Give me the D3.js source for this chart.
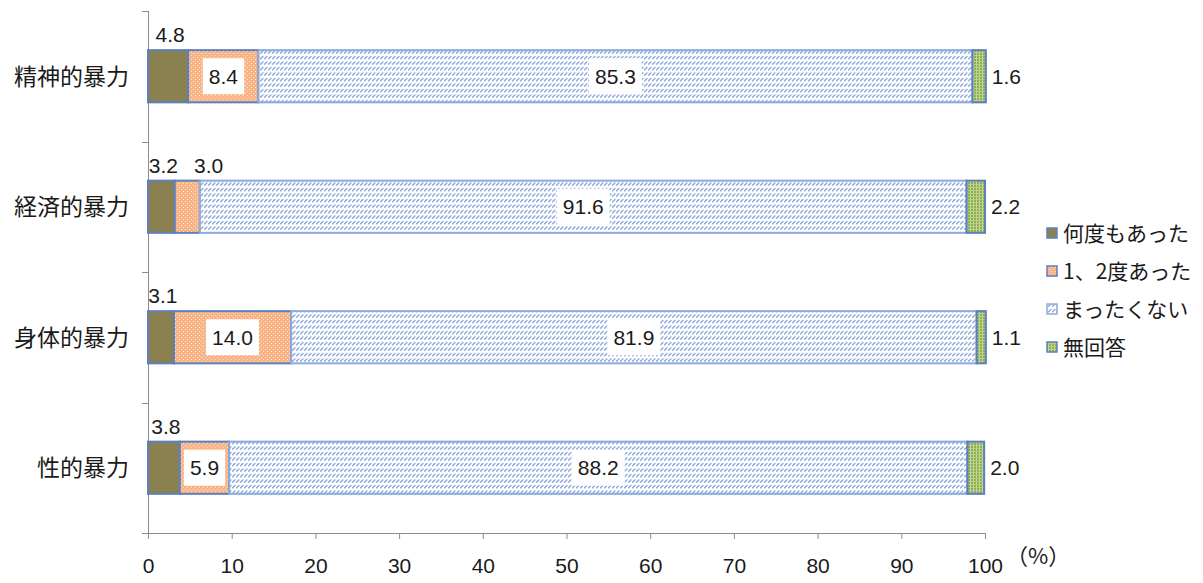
<!DOCTYPE html>
<html><head><meta charset="utf-8">
<script src="https://cdn.jsdelivr.net/npm/d3@7"></script>
<style>
body{margin:0;background:#fff;}
text{font-family:"Noto Sans CJK JP","Noto Sans",sans-serif;fill:#1a1a1a;}
.num{font-family:"Liberation Sans",Arial,sans-serif;}
</style></head>
<body><svg id="c" width="1203" height="583"></svg>
<script>
const categories = ["精神的暴力","経済的暴力","身体的暴力","性的暴力"];
const seriesNames = ["何度もあった","1、2度あった","まったくない","無回答"];
const many = [4.8, 3.2, 3.1, 3.8];
const onceTwice = [8.4, 3.0, 14.0, 5.9];
const never = [85.3, 91.6, 81.9, 88.2];
const noAnswer = [1.6, 2.2, 1.1, 2.0];
const xTicks = [0,10,20,30,40,50,60,70,80,90,100];
const unitLabel = "（%）";

const seriesVals = [many, onceTwice, never, noAnswer];
const svg = d3.select("#c");
const defs = svg.append("defs");

// patterns
const pOr = defs.append("pattern").attr("id","pOr").attr("patternUnits","userSpaceOnUse").attr("width",4).attr("height",4);
pOr.append("rect").attr("width",4).attr("height",4).attr("fill","#f9b486");
pOr.append("rect").attr("x",1).attr("y",1).attr("width",1).attr("height",1).attr("fill","#fde4d2");
pOr.append("rect").attr("x",3).attr("y",3).attr("width",1).attr("height",1).attr("fill","#fde4d2");

const pHa = defs.append("pattern").attr("id","pHa").attr("patternUnits","userSpaceOnUse").attr("width",4).attr("height",5.5);
pHa.append("rect").attr("width",4).attr("height",5.5).attr("fill","#fff");
pHa.append("path").attr("d","M0.2,4.2 L3.4,1").attr("stroke","#7196d6").attr("stroke-width",1.2);

const pGr = defs.append("pattern").attr("id","pGr").attr("patternUnits","userSpaceOnUse").attr("width",3).attr("height",3);
pGr.append("rect").attr("width",3).attr("height",3).attr("fill","#8fae4f");
pGr.append("rect").attr("x",1).attr("y",0).attr("width",1).attr("height",3).attr("fill","#c3d89a");
pGr.append("rect").attr("x",0).attr("y",1).attr("width",3).attr("height",1).attr("fill","#b7cf86");

const fills = ["#8b8150","url(#pOr)","url(#pHa)","url(#pGr)"];
const strokes = ["#5b80c0","#5b80c0","#8eaadc","#5b80c0"];

const x = d3.scaleLinear().domain([0,100]).range([148,985]);
const y = d3.scaleBand().domain(categories).range([11,533]).paddingInner(0.6).paddingOuter(0.3);

// axes
const gx = svg.append("g").attr("transform","translate(0,533)")
  .call(d3.axisBottom(x).tickValues(xTicks).tickSize(6).tickPadding(19).tickFormat(d3.format("d")));
gx.select(".domain").attr("stroke","#8c8c8c").attr("d","M142,0.5H985.5");
gx.selectAll(".tick line").attr("stroke","#8c8c8c");
gx.selectAll(".tick text").attr("class","num").attr("font-size",21).attr("fill","#1a1a1a");

svg.append("line").attr("x1",148.5).attr("x2",148.5).attr("y1",11).attr("y2",533).attr("stroke","#8c8c8c");
const bounds = [0,1,2,3,4].map(i => 11 + i*(522/4));
svg.selectAll(".ytick").data(bounds).join("line")
  .attr("x1",142).attr("x2",148).attr("y1",d=>Math.round(d)+0.5).attr("y2",d=>Math.round(d)+0.5).attr("stroke","#8c8c8c");

svg.append("text").attr("x",1006).attr("y",564).attr("font-size",22).text(unitLabel);

// category labels
svg.selectAll(".cat").data(categories).join("text")
  .attr("x",129).attr("y",d=>y(d)+y.bandwidth()/2).attr("dy","0.36em")
  .attr("text-anchor","end").attr("font-size",23).text(d=>d);

// bars
categories.forEach((cat, ci) => {
  let cum = 0;
  const segs = seriesVals.map((arr, si) => {
    const s = {si, v: arr[ci], x0: cum, x1: cum + arr[ci]};
    cum += arr[ci];
    return s;
  });
  const g = svg.append("g");
  const by = y(cat), bh = y.bandwidth();
  g.selectAll("rect").data(segs).join("rect")
    .attr("x", d=>x(d.x0)).attr("y", by)
    .attr("width", d=>x(d.x1)-x(d.x0)).attr("height", bh)
    .attr("fill", d=>fills[d.si]).attr("stroke", d=>strokes[d.si]).attr("stroke-width",2);
  // labels
  let prevRight = -Infinity;
  segs.forEach(d => {
    const txt = d3.format(".1f")(d.v);
    const cx = (x(d.x0)+x(d.x1))/2;
    let mode;
    if (d.si === 0) mode = "above";
    else if (d.si === 3) mode = "right";
    else mode = d.v >= 5 ? "inside" : "above";
    if (mode === "above") {
      const t = g.append("text").attr("class","num").attr("font-size",21).attr("text-anchor","middle")
        .attr("x",cx+2).attr("y",by-8).text(txt);
      let bb = t.node().getBBox();
      if (bb.x < prevRight + 10) {
        t.attr("x", prevRight + 16 + bb.width/2);
        bb = t.node().getBBox();
      }
      prevRight = bb.x + bb.width;
    } else if (mode === "right") {
      g.append("text").attr("class","num").attr("font-size",21)
        .attr("x",x(d.x1)+6).attr("y",by+bh/2).attr("dy","0.36em").text(txt);
    } else {
      const t = g.append("text").attr("class","num").attr("font-size",21).attr("text-anchor","middle")
        .attr("x",cx).attr("y",by+bh/2).attr("dy","0.36em").text(txt);
      const bb = t.node().getBBox();
      g.insert("rect", function(){return t.node();})
        .attr("x",bb.x-6).attr("y",by+bh/2-18).attr("width",bb.width+12).attr("height",36).attr("fill","#fff");
    }
  });
});

// legend
const lg = svg.append("g");
seriesNames.forEach((n, i) => {
  const ly = 233 + i*38;
  lg.append("rect").attr("x",1047).attr("y",ly-5).attr("width",10).attr("height",10)
    .attr("fill",fills[i]).attr("stroke",strokes[i]).attr("stroke-width",1.5);
  lg.append("text").attr("x",1063).attr("y",ly).attr("dy","0.36em").attr("font-size",21).text(n);
});
</script></body></html>
